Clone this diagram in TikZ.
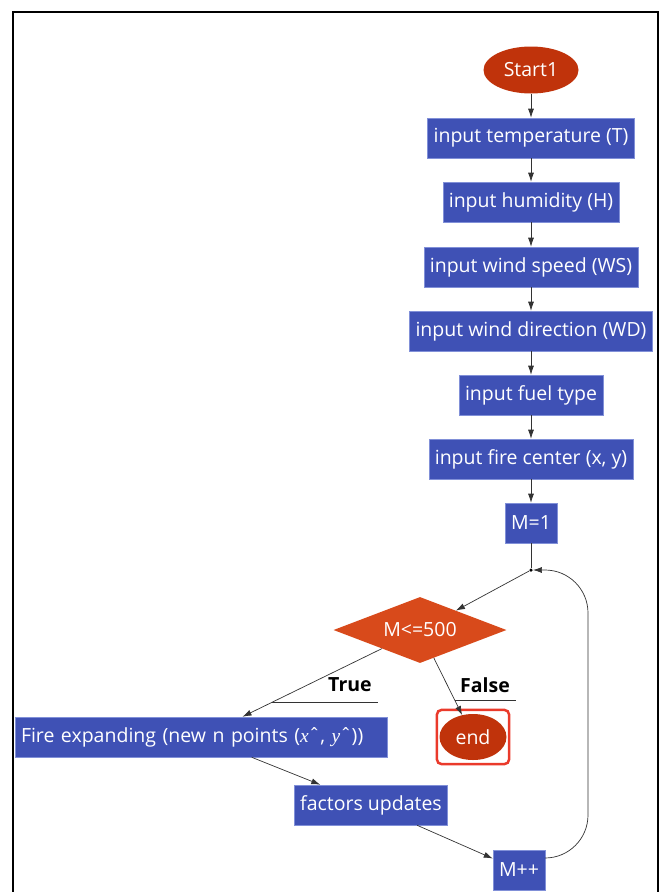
\documentclass[tikz,border=0pt]{standalone}
\usepackage{fontspec}
\setmainfont{Open Sans}
\newfontfamily\varfont{Liberation Serif}
\usetikzlibrary{shapes.geometric, arrows.meta, fit}
\definecolor{boxblue}{HTML}{3F51B5}
\definecolor{boxedge}{HTML}{8190D8}
\definecolor{termred}{HTML}{C0330B}
\definecolor{condorange}{HTML}{D84A1B}
\definecolor{markred}{HTML}{EA3A2B}
\definecolor{edgegray}{HTML}{333333}
\newcommand{\flowfont}{\fontsize{19.5}{23}\selectfont}
\newcommand{\hatvar}[1]{{\varfont\itshape #1}\symbol{"02C6}}
\tikzstyle{terminal} = [ellipse, minimum width=95pt, minimum height=47pt, inner sep=0pt, text=white, fill=termred]
\tikzstyle{process} = [rectangle, minimum height=40pt, inner xsep=6pt, inner ysep=0pt, text=white, fill=boxblue, draw=boxedge, line width=0.6pt]
\tikzstyle{decision} = [diamond, aspect=2.6, minimum width=173pt, minimum height=66pt, inner sep=0pt, text=white, fill=condorange]
\tikzstyle{junction} = [circle, fill=black, inner sep=0pt, minimum size=3.5pt]
\tikzstyle{branch} = [font=\flowfont\bfseries, inner xsep=6pt, inner ysep=0pt]
\tikzstyle{selected} = [draw=markred, line width=2.5pt, rounded corners=5pt, inner xsep=2.5pt, inner ysep=4pt]
\tikzstyle{link} = [draw=edgegray, line width=0.7pt]
\tikzstyle{arrow} = [link, -{Latex[length=9pt,width=6pt]}]

\begin{document}
\begin{tikzpicture}[x=1pt, y=-1pt, font=\flowfont]
    \useasboundingbox (0,0) rectangle (662,892);
    \draw [line width=2pt] (13,905) -- (13,12) -- (658,12) -- (658,905);

    \node [terminal] at (531,70) (start) {Start1};
    \node [process] at (531,138) (temp) {input temperature (T)};
    \node [process] at (531,202) (hum) {input humidity (H)};
    \node [process] at (531,267) (wspeed) {input wind speed (WS)};
    \node [process] at (531,331) (wdir) {input wind direction (WD)};
    \node [process] at (531,395) (fuel) {input fuel type};
    \node [process] at (531,459) (center) {input fire center (x, y)};
    \node [process] at (531,523) (mone) {M=1};
    \node [junction] at (531,570) (junc) {};
    \node [decision] at (420,630) (cond) {M<=500};
    \node [process, text width=360pt, align=left] at (201,737) (expand) {Fire expanding (new n points (\hatvar{x}, \hatvar{y}))};
    \node [terminal, minimum width=67pt, minimum height=46pt] at (473,737) (end) {end};
    \node [selected, fit=(end)] (endmark) {};
    \node [process] at (371,805) (factors) {factors updates};
    \node [process] at (519,870) (mpp) {M++};
    \node [branch] at (350,685) (truelbl) {True};
    \node [branch] at (485,685) (falselbl) {False};

    \draw [arrow] (start) -- (temp);
    \draw [arrow] (temp) -- (hum);
    \draw [arrow] (hum) -- (wspeed);
    \draw [arrow] (wspeed) -- (wdir);
    \draw [arrow] (wdir) -- (fuel);
    \draw [arrow] (fuel) -- (center);
    \draw [arrow] (center) -- (mone);
    \draw [link] (mone) -- (junc);
    \draw [arrow] (junc) -- (cond);
    \draw [arrow] (cond) -- coordinate[pos=0.79] (truept) (expand);
    \draw [arrow] (cond) -- coordinate[pos=0.74] (falsept) (end);
    \draw [link] (truept) -- (truept -| truelbl.east);
    \draw [link] (falsept) -- (falsept -| falselbl.east);
    \draw [arrow] (expand) -- (factors);
    \draw [arrow] (factors) -- (mpp);
    \draw [arrow, rounded corners=43pt] ([yshift=12pt]mpp.east) -| ([xshift=57pt]junc.center) -- (junc);
\end{tikzpicture}
\end{document}
